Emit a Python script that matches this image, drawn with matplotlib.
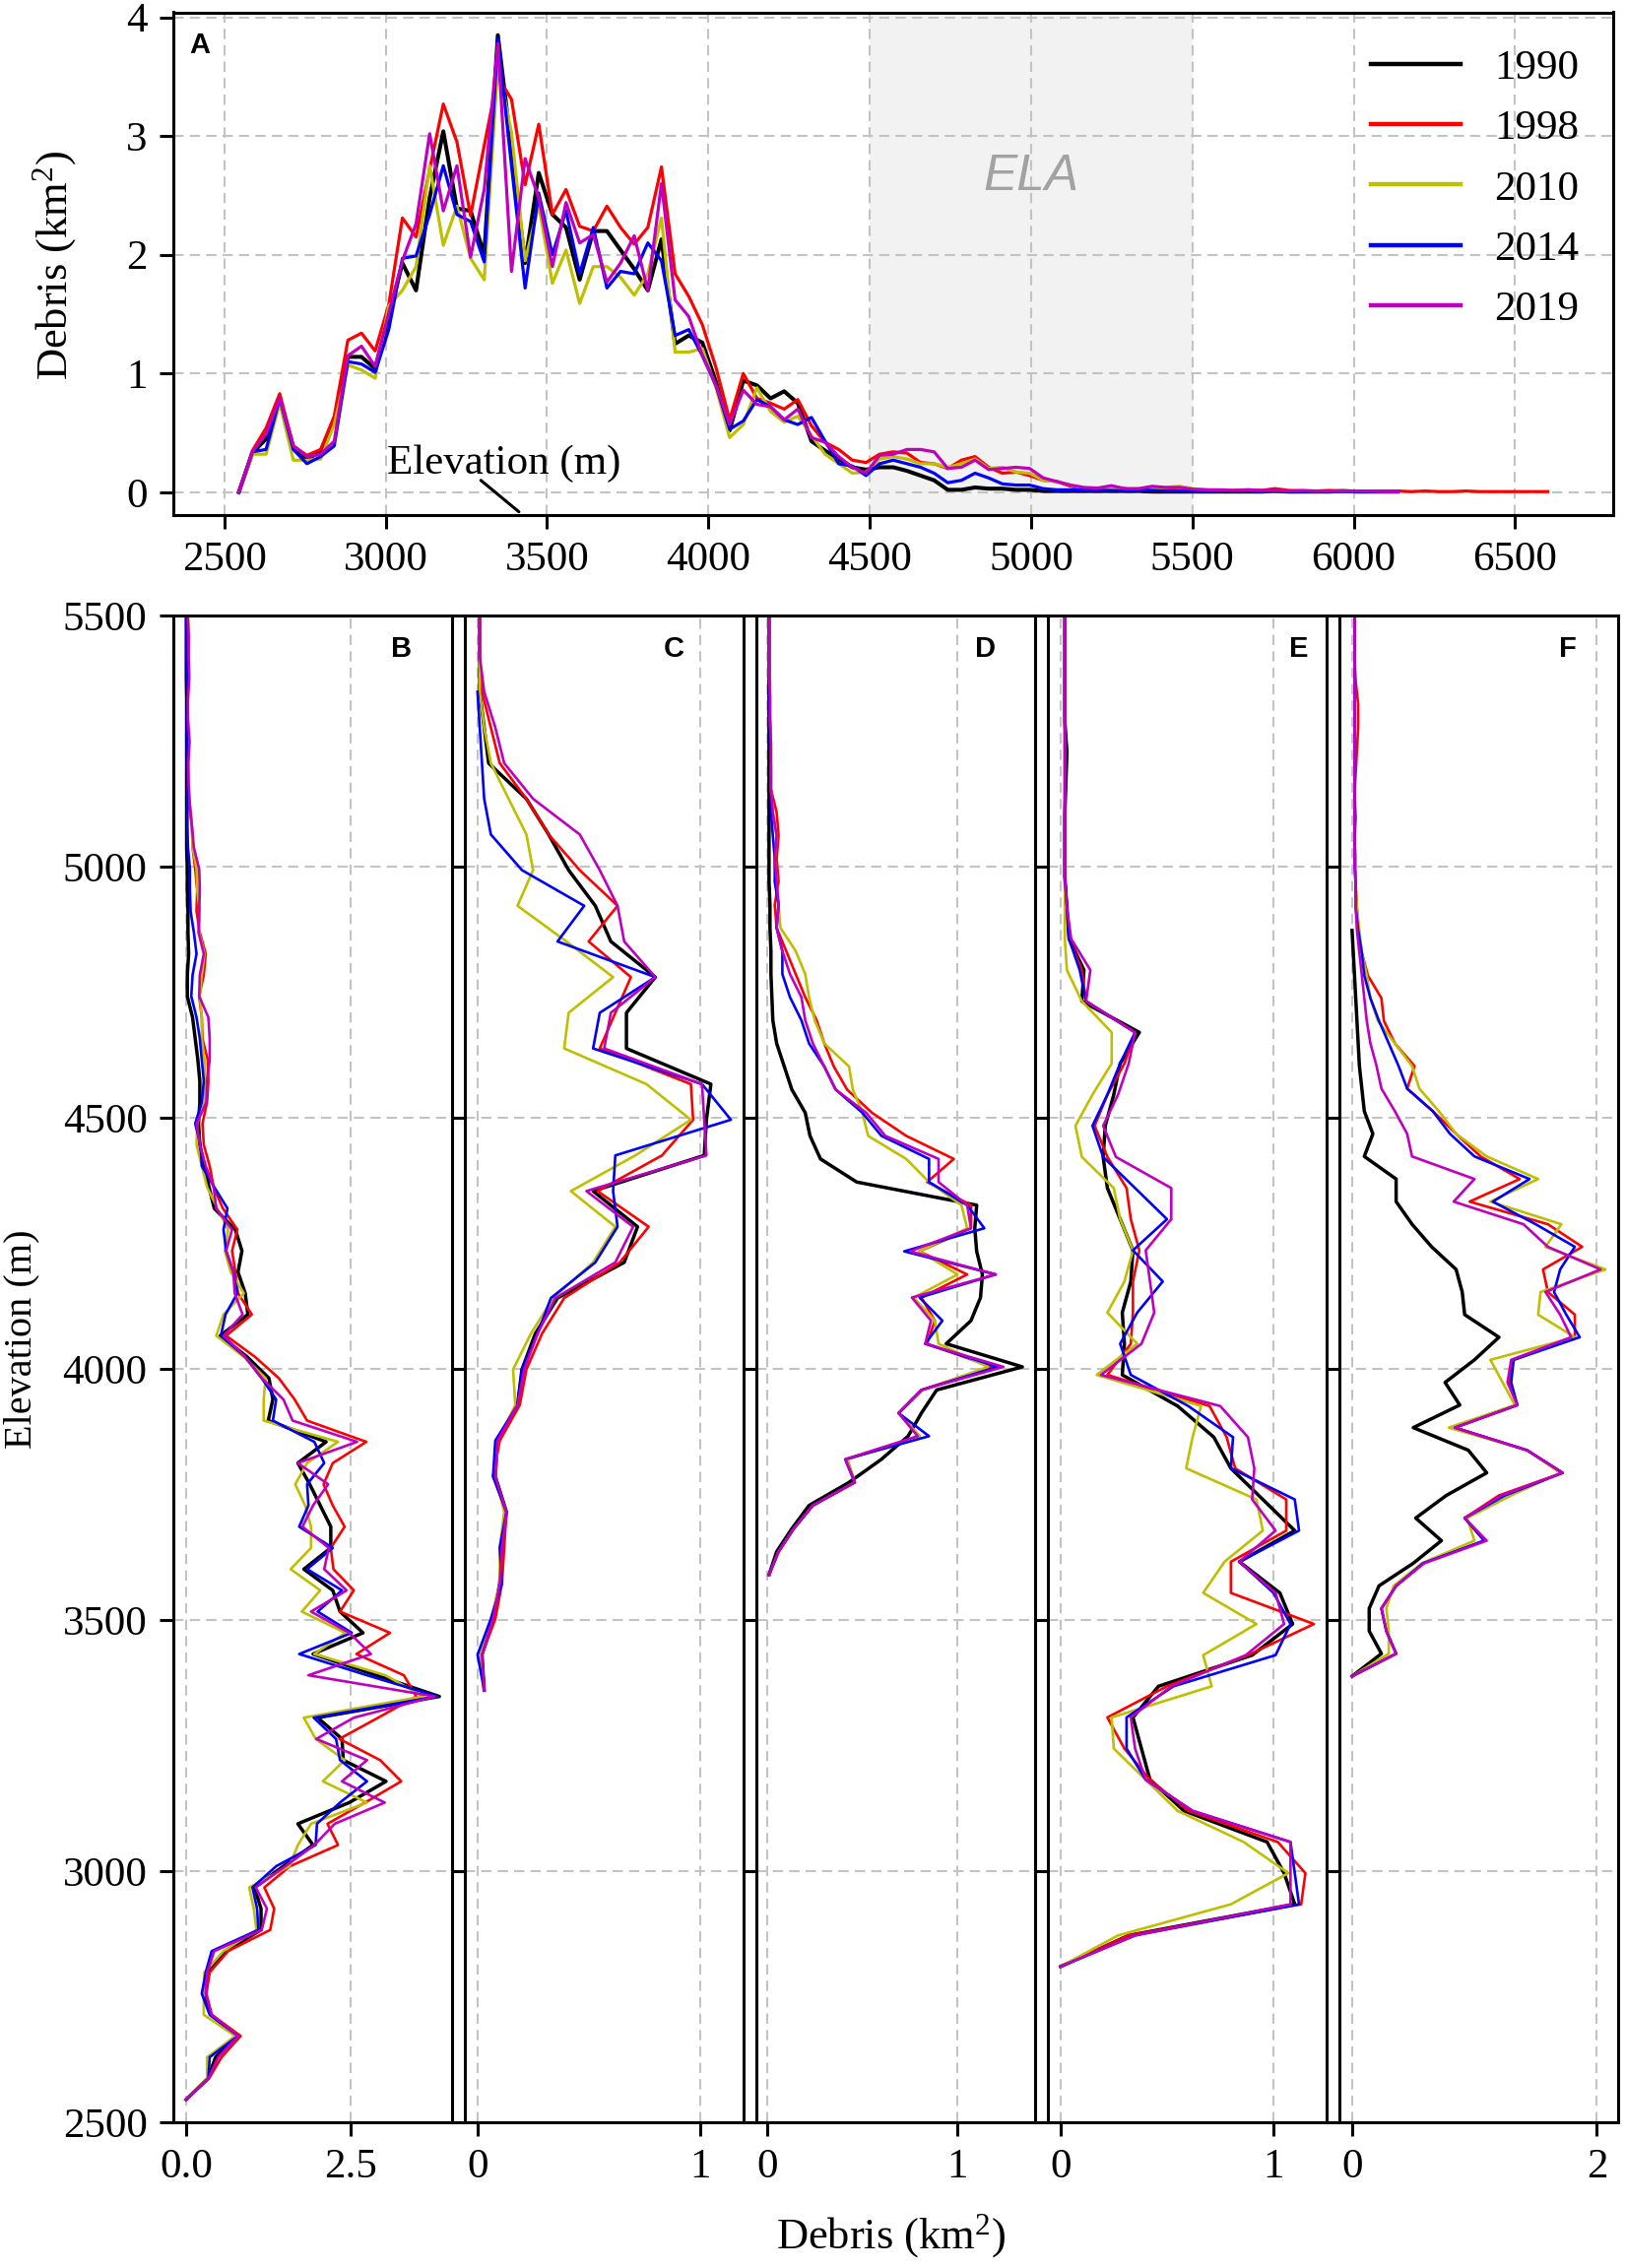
import numpy as np
import matplotlib
matplotlib.use('Agg')
import matplotlib.pyplot as plt

plt.rcParams['font.family'] = ['Liberation Serif', 'DejaVu Serif']
plt.rcParams['mathtext.fontset'] = 'custom'
plt.rcParams['mathtext.rm'] = 'Liberation Serif'
plt.rcParams['mathtext.it'] = 'Liberation Serif:italic'

# ---------------- data ----------------
years = ['1990', '1998', '2010', '2014', '2019']
colors = ['k', 'r', 'y', 'b', 'm']

# Whole glacier (panels A and B): elevation bins (m)
elev_total = np.arange(2545, 6610, 42.25)
tot_1990 = [0.00, 0.33, 0.45, 0.78, 0.38, 0.28, 0.34, 0.60, 1.14, 1.14, 1.04, 1.48, 1.93, 1.70, 2.48, 3.04,
            2.39, 2.37, 2.00, 3.85, 2.89, 1.93, 2.69, 2.34, 2.23, 1.79, 2.20, 2.20, 2.04, 1.88, 1.70, 2.13,
            1.25, 1.32, 1.26, 0.93, 0.52, 0.94, 0.90, 0.79, 0.85, 0.75, 0.43, 0.35, 0.28, 0.21, 0.19, 0.21,
            0.21, 0.18, 0.14, 0.10, 0.02, 0.02, 0.04, 0.03, 0.03,
            0.02, 0.02, 0.01, 0.01, 0.01, 0.01, 0.01, 0.01, 0.01, 0.01, 0.005, 0.005, 0.005, 0.005, 0.005,
            0.005, 0.005, 0.005, 0.005, 0.01, 0.005, 0.005, 0.005, 0.005, 0.01, 0.005, 0.005, 0.005, 0.005]
tot_1998 = [0.00, 0.35, 0.54, 0.83, 0.39, 0.31, 0.36, 0.64, 1.28, 1.34, 1.19, 1.58, 2.31, 2.15, 2.72, 3.27,
            2.95, 2.33, 2.92, 3.50, 3.31, 2.59, 3.10, 2.34, 2.55, 2.24, 2.20, 2.41, 2.23, 2.09, 2.23, 2.74,
            1.84, 1.65, 1.41, 1.05, 0.61, 1.00, 0.79, 0.75, 0.70, 0.78, 0.56, 0.42, 0.36, 0.27, 0.25, 0.32,
            0.34, 0.33, 0.25, 0.24, 0.20, 0.27, 0.30, 0.21, 0.16,
            0.17, 0.14, 0.10, 0.09, 0.05, 0.03, 0.03, 0.03, 0.03, 0.02, 0.025, 0.02, 0.015, 0.01, 0.015,
            0.01, 0.015, 0.02, 0.015, 0.03, 0.015, 0.01, 0.01, 0.015, 0.01, 0.01, 0.01, 0.01, 0.01, 0.005,
            0.01, 0.005, 0.005, 0.01, 0.005, 0.005, 0.005, 0.005, 0.005, 0.005]
tot_2010 = [0.00, 0.32, 0.32, 0.75, 0.27, 0.27, 0.28, 0.57, 1.07, 1.03, 0.96, 1.57, 1.70, 1.90, 2.75, 2.08,
            2.41, 1.97, 1.79, 3.60, 3.03, 1.95, 2.42, 1.76, 2.04, 1.59, 1.90, 1.90, 1.81, 1.66, 1.84, 2.31,
            1.18, 1.18, 1.21, 0.88, 0.46, 0.57, 0.88, 0.68, 0.59, 0.64, 0.48, 0.32, 0.24, 0.16, 0.17, 0.28,
            0.30, 0.28, 0.24, 0.24, 0.21, 0.24, 0.28, 0.20, 0.21,
            0.17, 0.16, 0.10, 0.09, 0.06, 0.03, 0.03, 0.03, 0.025, 0.03, 0.03, 0.04, 0.05, 0.03, 0.02,
            0.015, 0.01, 0.015, 0.01, 0.01, 0.01, 0.01, 0.01, 0.01, 0.005, 0.01, 0.005, 0.005, 0.005]
tot_2014 = [0.00, 0.34, 0.36, 0.79, 0.36, 0.24, 0.30, 0.39, 1.10, 1.08, 1.01, 1.37, 1.97, 1.99, 2.34, 2.75,
            2.34, 2.28, 1.94, 3.82, 2.75, 1.72, 2.52, 2.00, 2.37, 1.84, 2.23, 1.72, 1.86, 1.84, 2.10, 1.95,
            1.32, 1.37, 1.15, 0.90, 0.53, 0.60, 0.78, 0.72, 0.61, 0.57, 0.63, 0.43, 0.24, 0.22, 0.14, 0.24,
            0.27, 0.24, 0.21, 0.16, 0.08, 0.10, 0.16, 0.12, 0.07,
            0.06, 0.06, 0.03, 0.02, 0.02, 0.02, 0.015, 0.015, 0.01, 0.02, 0.015, 0.01, 0.01, 0.01, 0.005,
            0.01, 0.01, 0.01, 0.005, 0.01, 0.005, 0.005, 0.01, 0.005, 0.005, 0.005, 0.005, 0.005, 0.005]
tot_2019 = [0.00, 0.34, 0.49, 0.79, 0.39, 0.30, 0.32, 0.43, 1.15, 1.23, 1.06, 1.51, 1.95, 2.26, 3.02, 2.37,
            2.75, 1.98, 2.55, 3.78, 1.86, 2.81, 2.48, 1.90, 2.44, 2.10, 2.17, 1.77, 1.93, 2.16, 1.70, 2.60,
            1.62, 1.48, 1.15, 0.90, 0.57, 0.86, 0.74, 0.72, 0.61, 0.70, 0.46, 0.42, 0.30, 0.21, 0.16, 0.31,
            0.32, 0.36, 0.36, 0.34, 0.20, 0.21, 0.27, 0.19, 0.20,
            0.21, 0.20, 0.12, 0.09, 0.06, 0.04, 0.035, 0.055, 0.03, 0.03, 0.05, 0.04, 0.04, 0.025, 0.02,
            0.02, 0.015, 0.02, 0.015, 0.015, 0.01, 0.015, 0.01, 0.01, 0.01, 0.01, 0.01, 0.005, 0.005]

# Sub-glacier C
elev_C = np.arange(3360, 5600, 71)
C_1990 = [0.03, 0.02, 0.07, 0.10, 0.11, 0.13, 0.08, 0.09, 0.18, 0.20, 0.26, 0.36, 0.66, 0.72, 0.52, 1.02,
          1.03, 1.05, 0.67, 0.67, 0.80, 0.60, 0.53, 0.41, 0.32, 0.22, 0.05, 0.03, 0.01, 0.01, 0.01, 0.005]
C_1998 = [0.03, 0.02, 0.08, 0.11, 0.12, 0.13, 0.07, 0.10, 0.19, 0.22, 0.29, 0.39, 0.64, 0.77, 0.54, 0.83,
          0.97, 0.96, 0.55, 0.62, 0.69, 0.50, 0.63, 0.46, 0.32, 0.22, 0.10, 0.06, 0.02, 0.01, 0.01, 0.005]
C_2010 = [0.03, 0.01, 0.06, 0.10, 0.10, 0.12, 0.08, 0.09, 0.17, 0.16, 0.24, 0.34, 0.52, 0.62, 0.42, 0.71,
          0.96, 0.76, 0.39, 0.41, 0.61, 0.40, 0.18, 0.25, 0.22, 0.14, 0.06, 0.03, 0.01, 0.01, 0.01, 0.005]
C_2014 = [0.03, 0.00, 0.06, 0.11, 0.10, 0.13, 0.07, 0.08, 0.18, 0.20, 0.27, 0.33, 0.53, 0.63, 0.61, 0.62,
          1.14, 1.01, 0.52, 0.55, 0.80, 0.36, 0.48, 0.20, 0.06, 0.03, 0.02, 0.01, 0.00]
C_2019 = [0.03, 0.02, 0.07, 0.10, 0.11, 0.13, 0.08, 0.09, 0.18, 0.21, 0.27, 0.35, 0.62, 0.70, 0.49, 1.03,
          1.02, 1.01, 0.57, 0.60, 0.80, 0.66, 0.63, 0.55, 0.46, 0.25, 0.12, 0.08, 0.03, 0.01, 0.01, 0.005]

# Sub-glacier D
elev_D = np.arange(3590, 5560, 46)
D_1990 = [0.01, 0.05, 0.13, 0.22, 0.43, 0.60, 0.74, 0.81, 0.89, 1.34, 0.94, 1.07, 1.12, 1.13, 1.10, 1.09,
          1.10, 0.47, 0.28, 0.225, 0.20, 0.13, 0.09, 0.05, 0.03, 0.025, 0.02, 0.02, 0.015, 0.015, 0.01,
          0.01, 0.01, 0.01, 0.01, 0.01, 0.01, 0.01, 0.01, 0.01, 0.01, 0.01, 0.01]
D_1998 = [0.01, 0.06, 0.14, 0.24, 0.46, 0.42, 0.80, 0.69, 0.81, 1.18, 0.84, 0.88, 0.81, 1.05, 0.80, 1.07,
          1.07, 0.84, 0.98, 0.73, 0.55, 0.42, 0.35, 0.30, 0.26, 0.20, 0.15, 0.10, 0.05, 0.04, 0.06, 0.05,
          0.06, 0.05, 0.02, 0.02, 0.02, 0.015, 0.015, 0.01, 0.01, 0.01, 0.01]
D_2010 = [0.01, 0.06, 0.14, 0.24, 0.46, 0.42, 0.80, 0.69, 0.82, 1.16, 0.90, 0.88, 0.77, 1.00, 0.80, 1.05,
          1.02, 0.85, 0.73, 0.53, 0.50, 0.45, 0.43, 0.30, 0.25, 0.22, 0.20, 0.15, 0.07, 0.06, 0.05, 0.04,
          0.05, 0.03, 0.02, 0.02, 0.02, 0.015, 0.015, 0.01, 0.01, 0.01, 0.01]
D_2014 = [0.01, 0.06, 0.14, 0.24, 0.46, 0.41, 0.85, 0.69, 0.81, 1.21, 0.83, 0.92, 0.80, 1.20, 0.72, 1.14,
          1.05, 0.85, 0.85, 0.60, 0.50, 0.36, 0.30, 0.22, 0.18, 0.12, 0.08, 0.08, 0.05, 0.06, 0.04, 0.04,
          0.03, 0.02, 0.02, 0.02, 0.015, 0.015, 0.01, 0.01, 0.01, 0.01, 0.01]
D_2019 = [0.01, 0.06, 0.14, 0.24, 0.46, 0.41, 0.79, 0.69, 0.81, 1.24, 0.83, 0.86, 0.76, 1.20, 0.75, 1.07,
          1.05, 0.90, 0.90, 0.62, 0.52, 0.36, 0.30, 0.24, 0.20, 0.18, 0.12, 0.08, 0.05, 0.06, 0.05, 0.04,
          0.05, 0.03, 0.02, 0.02, 0.02, 0.015, 0.015, 0.01, 0.01, 0.01, 0.01]

# Sub-glacier E
elev_E = np.arange(2810, 5560, 62)
E_1990 = [0.00, 0.32, 1.10, 1.05, 0.97, 0.58, 0.42, 0.38, 0.34, 0.46, 0.90, 1.09, 1.03, 0.84, 1.10, 0.95,
          0.80, 0.72, 0.55, 0.29, 0.30, 0.29, 0.33, 0.34, 0.28, 0.22, 0.20, 0.21, 0.25, 0.28, 0.37, 0.10,
          0.11, 0.04, 0.03, 0.02, 0.02, 0.02, 0.025, 0.03, 0.02, 0.02, 0.02, 0.02, 0.02]
E_1998 = [0.00, 0.32, 1.13, 1.15, 1.02, 0.60, 0.42, 0.30, 0.22, 0.50, 0.88, 1.19, 0.80, 0.80, 1.06, 1.06,
          0.82, 0.78, 0.70, 0.22, 0.33, 0.34, 0.34, 0.37, 0.33, 0.31, 0.22, 0.16, 0.22, 0.30, 0.35, 0.12,
          0.10, 0.04, 0.03, 0.02, 0.02, 0.02, 0.02, 0.02, 0.02, 0.02, 0.02, 0.02, 0.02]
E_2010 = [0.00, 0.27, 0.80, 1.07, 0.86, 0.55, 0.40, 0.25, 0.24, 0.71, 0.67, 0.92, 0.67, 0.77, 0.95, 0.92,
          0.59, 0.62, 0.66, 0.17, 0.36, 0.22, 0.30, 0.34, 0.28, 0.25, 0.10, 0.07, 0.15, 0.24, 0.24, 0.10,
          0.03, 0.02, 0.02, 0.02, 0.02, 0.02, 0.02, 0.02, 0.02, 0.02, 0.02, 0.02, 0.02]
E_2014 = [0.00, 0.35, 1.12, 1.10, 1.08, 0.62, 0.40, 0.31, 0.31, 0.53, 1.01, 1.08, 1.00, 0.84, 1.12, 1.10,
          0.80, 0.81, 0.60, 0.33, 0.28, 0.36, 0.48, 0.34, 0.50, 0.35, 0.20, 0.15, 0.22, 0.28, 0.35, 0.12,
          0.09, 0.04, 0.03, 0.02, 0.02, 0.02, 0.02, 0.02, 0.02, 0.02, 0.02, 0.02, 0.02]
E_2019 = [0.00, 0.35, 1.08, 1.08, 1.08, 0.62, 0.40, 0.35, 0.33, 0.52, 0.87, 1.05, 1.01, 0.84, 1.01, 0.90,
          0.91, 0.88, 0.75, 0.19, 0.38, 0.44, 0.42, 0.40, 0.52, 0.52, 0.26, 0.20, 0.27, 0.32, 0.35, 0.12,
          0.14, 0.05, 0.03, 0.02, 0.02, 0.02, 0.02, 0.02, 0.02, 0.02, 0.02, 0.02, 0.02]

# Sub-glacier F
elev_F = np.arange(3388, 5560, 45)
F_1990 = [0.00, 0.24, 0.14, 0.14, 0.22, 0.50, 0.73, 0.52, 0.77, 1.10, 0.95, 0.50, 0.88, 0.76, 1.00, 1.20,
          0.92, 0.90, 0.85, 0.65, 0.49, 0.36, 0.36, 0.10, 0.17, 0.10, 0.08, 0.06, 0.05, 0.04, 0.03, 0.02,
          0.01, 0.00]
F_1998 = [0.00, 0.36, 0.28, 0.24, 0.36, 0.58, 1.08, 0.92, 1.20, 1.72, 1.43, 0.84, 1.35, 1.28, 1.32, 1.82,
          1.82, 1.60, 1.56, 1.88, 1.60, 0.96, 1.37, 1.05, 0.85, 0.66, 0.45, 0.51, 0.35, 0.26, 0.24, 0.13,
          0.08, 0.05, 0.04, 0.03, 0.03, 0.02, 0.03, 0.02, 0.03, 0.04, 0.05, 0.05, 0.03, 0.02, 0.02, 0.02]
F_2010 = [0.00, 0.30, 0.30, 0.28, 0.34, 0.57, 1.00, 0.94, 1.30, 1.70, 1.43, 0.79, 1.33, 1.23, 1.13, 1.82,
          1.52, 1.54, 2.07, 1.58, 1.71, 1.13, 1.52, 1.10, 0.85, 0.71, 0.55, 0.49, 0.35, 0.21, 0.15, 0.12,
          0.08, 0.06, 0.04, 0.03, 0.03, 0.02, 0.02, 0.02, 0.02, 0.02, 0.02, 0.02, 0.02, 0.02, 0.02, 0.02]
F_2014 = [0.00, 0.36, 0.28, 0.24, 0.36, 0.58, 1.08, 0.92, 1.25, 1.72, 1.43, 0.84, 1.35, 1.30, 1.32, 1.86,
          1.75, 1.65, 1.70, 1.82, 1.50, 1.15, 1.45, 1.00, 0.80, 0.66, 0.45, 0.38, 0.30, 0.22, 0.15, 0.10,
          0.08, 0.05, 0.03, 0.03, 0.02, 0.02, 0.02, 0.02, 0.02, 0.02, 0.02, 0.02, 0.02, 0.02, 0.02, 0.02]
F_2019 = [0.00, 0.36, 0.28, 0.24, 0.36, 0.59, 1.10, 0.92, 1.22, 1.72, 1.43, 0.84, 1.35, 1.27, 1.30, 1.79,
          1.70, 1.58, 2.03, 1.60, 1.40, 0.83, 1.00, 0.49, 0.45, 0.35, 0.24, 0.20, 0.15, 0.12, 0.10, 0.08,
          0.06, 0.04, 0.03, 0.03, 0.02, 0.02, 0.02, 0.02, 0.02, 0.02, 0.02, 0.02, 0.02, 0.02, 0.02, 0.02]

total_series = [tot_1990, tot_1998, tot_2010, tot_2014, tot_2019]
sub_panels = [
    ('C', elev_C, [C_1990, C_1998, C_2010, C_2014, C_2019], [0, 1], ['0', '1'], 0.75),
    ('D', elev_D, [D_1990, D_1998, D_2010, D_2014, D_2019], [0, 1], ['0', '1'], 0.82),
    ('E', elev_E, [E_1990, E_1998, E_2010, E_2014, E_2019], [0, 1], ['0', '1'], 0.90),
    ('F', elev_F, [F_1990, F_1998, F_2010, F_2014, F_2019], [0, 2], ['0', '2'], 0.82),
]

# ---------------- layout / style ----------------
W, H = 1650, 2303
fig = plt.figure(figsize=(W / 100, H / 100), dpi=100)

SPINE_LW = 2.2
GRID_KW = dict(color='#c3c3c3', linestyle=(0, (5, 3)), linewidth=1.5)
TICK_FS = 31

def style(ax):
    for s in ax.spines.values():
        s.set_linewidth(SPINE_LW)
    ax.tick_params(direction='out', length=10, width=2.2, labelsize=TICK_FS, pad=9)
    ax.grid(True, **GRID_KW)

def lw_for(c, base):
    return base + 0.6 if c == 'k' else base

# Panel A
axA = fig.add_axes([176 / W, 1 - 523 / H, 1462 / W, 510.5 / H])
style(axA)
axA.axvspan(4500, 5500, color='#f2f2f2', zorder=0.5, lw=0)
handles = []
for vals, c, y in zip(total_series, colors, years):
    ln, = axA.plot(elev_total[:len(vals)], vals, color=c, lw=lw_for(c, 2.3), label=y)
    handles.append(ln)
axA.set_xticks([2500, 3000, 3500, 4000, 4500, 5000, 5500, 6000, 6500])
axA.set_yticks([0, 1, 2, 3, 4])
axA.set_ylabel('Debris (km$^{2}$)', fontsize=32)
axA.yaxis.set_label_coords(-0.066, 0.497)
axA.text(5000, 2.66, 'ELA', fontsize=37, style='italic', color='#a2a2a2',
         family='Liberation Sans', ha='center', va='center')
axA.text(0.011, 0.934, 'A', transform=axA.transAxes, fontsize=21, fontweight='bold',
         family='Liberation Sans', ha='left', va='center')
axA.text(3005, 0.16, 'Elevation (m)', fontsize=31, ha='left', va='baseline')
axA.annotate('', xy=(3413, -0.165), xytext=(3295, 0.10),
             arrowprops=dict(arrowstyle='-', color='k', lw=2.2, shrinkA=0, shrinkB=0))
leg = axA.legend(handles=handles, loc='upper left', bbox_to_anchor=(0.832, 0.927),
                 frameon=False, fontsize=31, handlelength=2.1, handletextpad=0.8,
                 labelspacing=0.515, borderpad=0, borderaxespad=0)
for l in leg.get_lines():
    l.set_linewidth(3.2)

# Bottom panels
lefts = [176, 472, 768, 1064, 1360]
bw = 283
y0 = 1 - 2155 / H
bh = 1530 / H

axB = fig.add_axes([lefts[0] / W, y0, bw / W, bh])
style(axB)
for vals, c in zip(total_series, colors):
    axB.plot(vals, elev_total[:len(vals)], color=c, lw=lw_for(c, 1.9))
axB.set_ylim(2500, 5500)
axB.set_yticks([2500, 3000, 3500, 4000, 4500, 5000, 5500])
axB.set_xticks([0, 2.5])
axB.set_xticklabels(['0.0', '2.5'])
axB.text(0.82, 0.978, 'B', transform=axB.transAxes, fontsize=21, fontweight='bold',
         family='Liberation Sans', ha='center', va='center')

for k, (lab, elev, series, xt, xtl, lx) in enumerate(sub_panels):
    ax = fig.add_axes([lefts[k + 1] / W, y0, bw / W, bh])
    style(ax)
    for vals, c in zip(series, colors):
        ax.plot(vals, elev[:len(vals)], color=c, lw=lw_for(c, 1.9))
    ax.set_ylim(2500, 5500)
    ax.set_yticks([2500, 3000, 3500, 4000, 4500, 5000, 5500])
    ax.tick_params(labelleft=False)
    ax.set_xticks(xt)
    ax.set_xticklabels(xtl)
    ax.text(lx, 0.978, lab, transform=ax.transAxes, fontsize=21, fontweight='bold',
            family='Liberation Sans', ha='center', va='center')

fig.text(22 / W, 1 - 1360 / H, 'Elevation (m)', rotation=90, fontsize=29,
         ha='center', va='center')
fig.text(905 / W, 1 - 2271 / H, 'Debris (km$^{2}$)', fontsize=32, ha='center', va='center')

fig.savefig('out.png', dpi=100)
